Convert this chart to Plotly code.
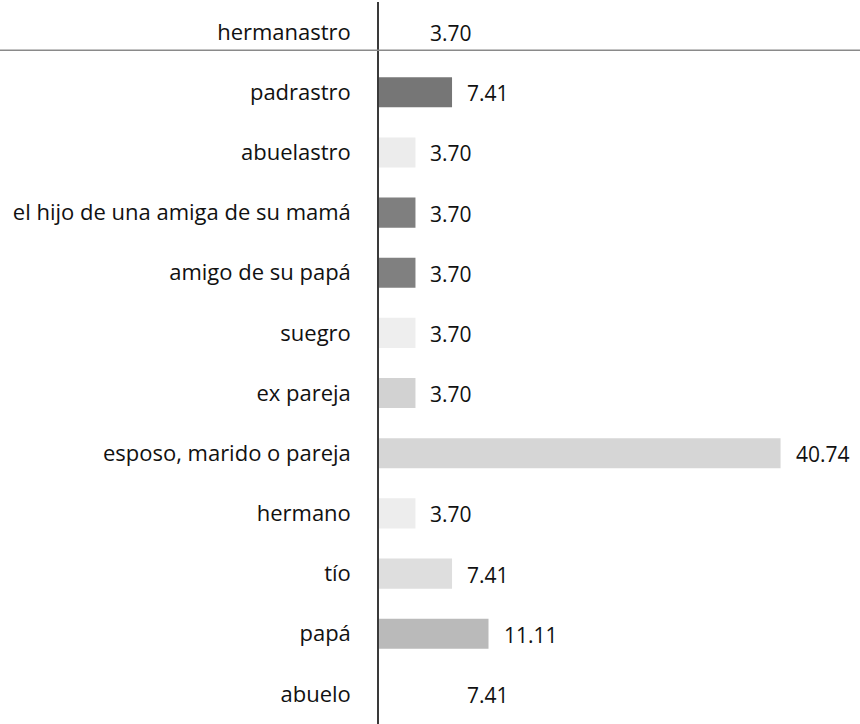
import plotly.graph_objects as go

categories = ["hermanastro", "padrastro", "abuelastro", "el hijo de una amiga de su mamá",
              "amigo de su papá", "suegro", "ex pareja", "esposo, marido o pareja",
              "hermano", "tío", "papá", "abuelo"]
values = [3.70, 7.41, 3.70, 3.70, 3.70, 3.70, 3.70, 40.74, 3.70, 7.41, 11.11, 7.41]
bar_colors = ["rgba(255,255,255,0)", "#767676", "#ececec", "#7f7f7f", "#808080", "#eeeeee",
              "#d2d2d2", "#d6d6d6", "#ededed", "#dedede", "#bababa", "rgba(255,255,255,0)"]

FONT = "Open Sans, Lato, sans-serif"

fig = go.Figure(go.Bar(
    x=values, y=categories, orientation="h",
    marker=dict(color=bar_colors, line=dict(width=0)),
    width=0.5,
    hoverinfo="skip",
))

for c, v in zip(categories, values):
    fig.add_annotation(x=v, y=c, text=f"{v:.2f}", showarrow=False,
                       xanchor="left", xshift=13, yshift=-1,
                       font=dict(family=FONT, size=21, color="#111"))

# horizontal separator line under the first row
fig.add_shape(type="line", xref="paper", yref="y", x0=-1, x1=1, y0=0.30, y1=0.30,
              line=dict(color="#8a8a8a", width=1.5))

fig.update_layout(
    width=860, height=724,
    margin=dict(l=379, r=0, t=2, b=0),
    paper_bgcolor="white", plot_bgcolor="white",
    showlegend=False,
    xaxis=dict(range=[0, 48.8], visible=False, fixedrange=True),
    yaxis=dict(autorange="reversed", showline=True, linecolor="#3a3a3a", linewidth=1.5,
               showgrid=False, zeroline=False, ticks="", ticklabelstandoff=22,
               automargin=False, fixedrange=True,
               tickfont=dict(family=FONT, size=22, color="#111")),
    font=dict(family=FONT),
)

fig.write_html("out.html", config={"displayModeBar": False},
               post_script="document.body.style.margin='0';document.body.style.overflow='hidden';")
